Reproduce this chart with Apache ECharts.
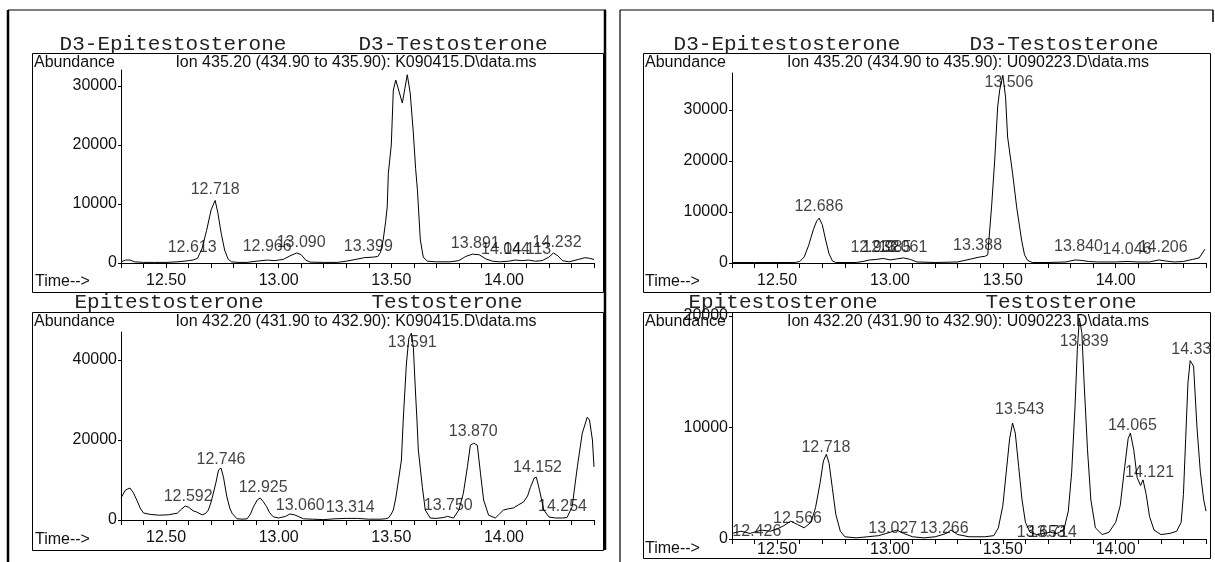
<!DOCTYPE html>
<html>
<head>
<meta charset="utf-8">
<script src="https://cdn.jsdelivr.net/npm/echarts@6/dist/echarts.min.js"></script>
<style>
html,body{margin:0;padding:0;background:#fff;}
#chart{width:1215px;height:562px;}
</style>
</head>
<body>
<div id="chart"></div>
<script>
// ---------- data ----------
// Panel A: ion 435.20, K090415 (D3 standards)
const timeA = [12.30,12.32,12.34,12.36,12.40,12.45,12.50,12.55,12.58,12.60,12.62,12.64,12.66,12.68,12.70,12.718,12.73,12.745,12.76,12.775,12.79,12.82,12.86,12.90,12.95,12.98,13.02,13.05,13.08,13.10,13.12,13.14,13.20,13.26,13.30,13.34,13.38,13.42,13.44,13.452,13.464,13.475,13.482,13.487,13.50,13.509,13.52,13.535,13.549,13.56,13.571,13.584,13.598,13.608,13.616,13.629,13.642,13.66,13.70,13.76,13.80,13.83,13.86,13.89,13.92,13.95,13.98,14.02,14.05,14.08,14.11,14.14,14.17,14.20,14.22,14.24,14.26,14.29,14.33,14.36,14.38,14.40];
const abundA = [200,500,500,200,100,100,100,200,300,400,500,800,2500,5500,9000,10600,8500,5000,2200,700,200,100,100,300,500,400,600,1200,1700,1400,500,150,100,100,300,600,900,1000,1100,1800,3900,7000,9500,15200,20000,29300,31000,29000,27100,29500,31900,28800,22000,16000,12400,3900,1000,300,200,200,400,1100,1500,1400,700,300,200,300,500,400,500,300,400,1000,1700,1200,400,200,600,900,800,600];
const peaksA = [[12.616,2540,'12.613'],[12.718,12370,'12.718'],[12.949,2700,'12.966'],[13.10,3390,'13.090'],[13.398,2700,'13.399'],[13.873,3220,'13.891'],[14.007,2200,'14.044'],[14.104,2200,'14.113'],[14.236,3390,'14.232'],[13.574,34000,'13.574']];

// Panel B: ion 435.20, U090223
const timeB = [12.30,12.40,12.50,12.58,12.60,12.62,12.64,12.66,12.675,12.686,12.70,12.715,12.73,12.745,12.76,12.85,12.88,12.91,12.94,12.97,13.00,13.03,13.06,13.09,13.12,13.20,13.30,13.36,13.40,13.42,13.433,13.45,13.464,13.477,13.486,13.50,13.512,13.521,13.543,13.561,13.583,13.596,13.61,13.63,13.70,13.78,13.82,13.85,13.88,13.92,14.00,14.05,14.10,14.15,14.19,14.22,14.26,14.30,14.34,14.37,14.395];
const abundB = [100,100,100,100,300,1200,3500,6500,8200,8800,7500,4500,1800,400,100,100,300,600,700,900,600,800,1000,700,200,100,200,800,1200,1300,1600,11000,20200,30600,33900,36800,32500,24700,17600,11000,4500,1600,500,100,100,200,600,500,300,200,200,300,200,200,600,400,200,300,700,1000,2700];
const peaksB = [[12.685,10980,'12.686'],[12.933,2940,'12.932'],[12.986,2940,'12.985'],[13.057,2940,'13.061'],[13.388,3330,'13.388'],[13.527,35280,'13.506'],[13.835,3140,'13.840'],[14.05,2550,'14.046'],[14.21,2940,'14.206']];

// Panel C: ion 432.20, K090415 (analytes)
const timeC = [12.30,12.32,12.34,12.355,12.37,12.385,12.40,12.43,12.47,12.51,12.55,12.57,12.585,12.60,12.62,12.636,12.66,12.675,12.688,12.70,12.71,12.722,12.733,12.744,12.755,12.77,12.783,12.793,12.815,12.84,12.86,12.875,12.888,12.905,12.918,12.93,12.947,12.96,12.976,13.00,13.03,13.05,13.07,13.09,13.11,13.15,13.20,13.25,13.30,13.35,13.40,13.45,13.475,13.487,13.50,13.509,13.52,13.53,13.545,13.553,13.56,13.567,13.578,13.589,13.598,13.607,13.614,13.62,13.638,13.651,13.673,13.70,13.73,13.75,13.776,13.80,13.82,13.838,13.851,13.866,13.882,13.896,13.91,13.932,13.962,13.98,13.998,14.02,14.042,14.065,14.087,14.105,14.118,14.135,14.144,14.158,14.177,14.20,14.23,14.26,14.28,14.303,14.326,14.348,14.37,14.38,14.393,14.40];
const abundC = [5500,7500,8000,6800,5000,3000,1750,1400,1200,1300,1700,2800,3500,3200,2300,2000,1300,1600,2500,4500,6700,9500,12500,13000,10700,5800,3000,1700,300,200,300,1500,3300,5000,5500,4700,3300,1800,800,500,900,1500,1300,800,300,200,100,300,400,400,200,200,300,500,1500,2500,5500,9200,15000,25000,32000,39000,45500,46700,43200,32500,25000,17500,8200,2500,500,400,600,900,500,2500,6700,13300,18700,19200,18700,11700,5000,1200,500,1500,2500,2800,3000,3800,4500,6000,8200,10500,10700,7500,2500,750,500,500,600,3300,13300,21700,25700,25000,20000,13300];
const peaksC = [[12.598,5750,'12.592'],[12.744,15000,'12.746'],[12.931,8000,'12.925'],[13.096,3500,'13.060'],[13.318,3000,'13.314'],[13.593,44250,'13.591'],[13.753,3500,'13.750'],[13.864,22000,'13.870'],[14.149,13000,'14.152'],[14.26,3250,'14.254']];

// Panel D: ion 432.20, U090223
const timeD = [12.30,12.34,12.38,12.43,12.47,12.50,12.53,12.56,12.59,12.62,12.65,12.67,12.69,12.705,12.718,12.73,12.745,12.76,12.78,12.80,12.85,12.90,12.95,13.00,13.03,13.06,13.10,13.15,13.20,13.25,13.27,13.30,13.35,13.42,13.46,13.48,13.50,13.515,13.53,13.543,13.555,13.57,13.585,13.60,13.62,13.65,13.68,13.71,13.74,13.77,13.79,13.805,13.82,13.83,13.839,13.85,13.86,13.875,13.89,13.91,13.94,13.97,14.00,14.02,14.04,14.055,14.065,14.08,14.095,14.11,14.121,14.135,14.15,14.17,14.20,14.24,14.27,14.29,14.30,14.31,14.32,14.33,14.345,14.36,14.375,14.39,14.40];
const abundD = [500,700,500,800,700,900,1200,1600,1300,1000,1500,2800,5000,7000,7600,6800,4500,2200,700,200,100,200,300,600,800,500,200,100,200,500,800,400,200,200,300,1000,3000,6000,9000,10400,9500,6500,3500,1500,600,400,500,600,500,800,2500,6000,12000,17000,19800,18500,14000,8000,3500,1000,400,600,1500,3000,6500,9000,9500,8000,5500,4800,5300,4000,2000,800,400,500,700,1500,4000,9000,14000,16000,15500,10000,6000,3500,2500];
const peaksD = [[12.41,700,'12.426'],[12.59,1800,'12.566'],[12.716,8200,'12.718'],[13.012,900,'13.027'],[13.24,900,'13.266'],[13.574,11600,'13.543'],[13.67,600,'13.653'],[13.72,600,'13.714'],[13.86,17700,'13.839'],[14.074,10200,'14.065'],[14.15,6000,'14.121'],[14.335,17000,'14.33']];

// axis ticks
const timeTicks = [12.3,12.4,12.5,12.6,12.7,12.8,12.9,13.0,13.1,13.2,13.3,13.4,13.5,13.6,13.7,13.8,13.9,14.0,14.1,14.2,14.3,14.4];
const timeLabels = [12.5,13.0,13.5,14.0];
const abundTicksA = [0,10000,20000,30000];
const abundTicksB = [0,10000,20000,30000];
const abundTicksC = [0,20000,40000];
const abundTicksD = [0,10000,20000];

// ---------- chart ----------
const SANS = 'Liberation Sans, Arial, sans-serif';
const MONO = 'Liberation Mono, Courier New, monospace';
const TXT = '#111';

function zip(t, v){ return t.map((x,i)=>[x, v[i]]); }

const grids = [
  {left:121, top:70, width:473, height:193},
  {left:732, top:73, width:474, height:190},
  {left:121, top:332, width:473, height:188},
  {left:732, top:313, width:474, height:226}
];
const yMax = [32700, 37240, 47000, 20270];
const yTicks = [abundTicksA, abundTicksB, abundTicksC, abundTicksD];
const xLabelMargin = [10, 10, 10, 3];

const xAxes = grids.map((g,i)=>({
  type:'value', gridIndex:i, min:12.3, max:14.4,
  axisLine:{lineStyle:{color:'#000', width:1}},
  axisTick:{show:true, length:5, lineStyle:{color:'#000'}, customValues: timeTicks},
  axisLabel:{fontSize:16, fontFamily:SANS, color:TXT, margin:xLabelMargin[i],
    customValues: timeLabels, formatter: v => Number(v).toFixed(2)},
  splitLine:{show:false}
}));
const yAxes = grids.map((g,i)=>({
  type:'value', gridIndex:i, min:0, max:yMax[i],
  axisLine:{show:true, lineStyle:{color:'#000', width:1}},
  axisTick:{show:true, length:3, lineStyle:{color:'#000'}, customValues: yTicks[i]},
  axisLabel:{fontSize:16, fontFamily:SANS, color:TXT, margin:4, customValues: yTicks[i],
    formatter: v => String(Math.round(Number(v)))},
  splitLine:{show:false}
}));

const traces = [zip(timeA,abundA), zip(timeB,abundB), zip(timeC,abundC), zip(timeD,abundD)];
const peaks = [peaksA, peaksB, peaksC, peaksD];

const series = [];
traces.forEach((d,i)=>{
  series.push({type:'line', xAxisIndex:i, yAxisIndex:i, data:d, showSymbol:false,
    lineStyle:{color:'#000', width:1}, silent:true});
  series.push({type:'scatter', xAxisIndex:i, yAxisIndex:i, data:peaks[i],
    symbol:'circle', symbolSize:1, itemStyle:{color:'rgba(0,0,0,0)'}, silent:true,
    label:{show:true, position:'inside', fontSize:16, fontFamily:SANS, color:TXT,
      formatter: p => p.value[2]}});
});

function txt(x,y,s,align){
  return {type:'text', x:x, y:y, silent:true,
    style:{text:s, fontSize:16, fontFamily:SANS, fill:TXT, textVerticalAlign:'middle', textAlign:align||'left'}};
}
function title(x,y,s){
  return {type:'text', x:x, y:y, silent:true,
    style:{text:s, fontSize:21, fontFamily:MONO, fill:'#222', textAlign:'center', textVerticalAlign:'middle'}};
}
function rect(x,y,w,h){
  return {type:'rect', shape:{x:x,y:y,width:w,height:h}, silent:true,
    style:{fill:'none', stroke:'#000', lineWidth:1}};
}
function line(x1,y1,x2,y2,w){
  return {type:'line', shape:{x1:x1,y1:y1,x2:x2,y2:y2}, silent:true,
    style:{stroke:'#000', lineWidth:w||1}};
}

const graphic = [
  // page frame
  line(8,10,8,562,2.5), line(8,10,606,10,1.2), line(605,10,605,550,2.5),
  line(620,10,620,562,1.2), line(620,10,1213,10,1.2), line(1213,10,1213,22,1.5),
  // plot boxes
  rect(32.5,53.5,571,239), rect(32.5,312.5,571,238),
  rect(643.5,53.5,567,239), rect(643.5,312.5,567,246),
  // titles
  title(173,44,'D3-Epitestosterone'), title(453,44,'D3-Testosterone'),
  title(787,44,'D3-Epitestosterone'), title(1064,44,'D3-Testosterone'),
  title(169,302,'Epitestosterone'), title(447,302,'Testosterone'),
  title(783,302,'Epitestosterone'), title(1061,302,'Testosterone'),
  // header texts
  txt(34,63,'Abundance'), txt(356,63,'Ion 435.20 (434.90 to 435.90): K090415.D\\data.ms','center'),
  txt(645,63,'Abundance'), txt(968,63,'Ion 435.20 (434.90 to 435.90): U090223.D\\data.ms','center'),
  txt(34,322,'Abundance'), txt(356,322,'Ion 432.20 (431.90 to 432.90): K090415.D\\data.ms','center'),
  txt(645,322,'Abundance'), txt(968,322,'Ion 432.20 (431.90 to 432.90): U090223.D\\data.ms','center'),
  // time labels
  txt(35,282,'Time-->'), txt(645,282,'Time-->'),
  txt(35,540,'Time-->'), txt(645,549,'Time-->')
];

const chart = echarts.init(document.getElementById('chart'), null, {renderer:'canvas'});
chart.setOption({
  animation:false,
  backgroundColor:'#fff',
  grid: grids,
  xAxis: xAxes,
  yAxis: yAxes,
  series: series,
  graphic: graphic
});
</script>
</body>
</html>
